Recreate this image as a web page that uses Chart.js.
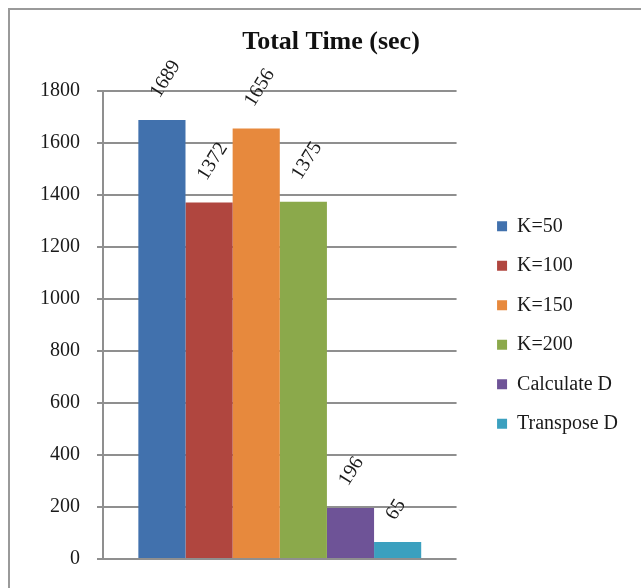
<!DOCTYPE html>
<html>
<head>
<meta charset="utf-8">
<script src="https://cdn.jsdelivr.net/npm/chart.js@4.4.1/dist/chart.umd.min.js"></script>
<style>
  html, body { margin: 0; padding: 0; background: #fff; }
  .frame {
    position: absolute; left: 8px; top: 8px; width: 700px; height: 700px;
    border-left: 2px solid #9a9a9a; border-top: 2px solid #9a9a9a;
  }
  .wrap { position: absolute; left: 0; top: 0; width: 641px; height: 588px; }
</style>
</head>
<body>
<div class="frame"></div>
<div class="wrap"><canvas id="myChart" width="641" height="588"></canvas></div>
<script>
const categories = ["Total Time (sec)"];
const seriesNames = ["K=50", "K=100", "K=150", "K=200", "Calculate D", "Transpose D"];
const seriesValues = [1689, 1372, 1656, 1375, 196, 65];
const seriesColors = ["#4171ad", "#b0463f", "#e7893d", "#8ba94b", "#6e5397", "#3ba0bf"];
const yTicks = [0, 200, 400, 600, 800, 1000, 1200, 1400, 1600, 1800];

const serif = "'Liberation Serif', 'Times New Roman', serif";

// value labels, rotated like in the spreadsheet chart
const valueLabels = {
  id: "valueLabels",
  afterDatasetsDraw(chart) {
    const ctx = chart.ctx;
    ctx.save();
    ctx.font = "20px " + serif;
    ctx.fillStyle = "#1a1a1a";
    ctx.textAlign = "left";
    ctx.textBaseline = "middle";
    chart.data.datasets.forEach((ds, i) => {
      const bar = chart.getDatasetMeta(i).data[0];
      ctx.save();
      ctx.translate(bar.x - 7, bar.y - 24);
      ctx.rotate((-58 * Math.PI) / 180);
      ctx.fillText(String(ds.data[0]), 0, 0);
      ctx.restore();
    });
    ctx.restore();
  },
};

const ctx = document.getElementById("myChart").getContext("2d");
const myChart = new Chart(ctx, {
  type: "bar",
  data: {
    labels: categories,
    datasets: seriesNames.map((name, i) => ({
      label: name,
      data: [seriesValues[i]],
      backgroundColor: seriesColors[i],
      borderWidth: 0,
      categoryPercentage: 0.8,
      barPercentage: 1.0,
    })),
  },
  options: {
    responsive: false,
    animation: false,
    layout: { padding: { left: 34, right: 13, top: 10, bottom: 26 } },
    plugins: {
      title: {
        display: true,
        text: "Total Time (sec)",
        color: "#111",
        font: { family: serif, size: 26, weight: "bold" },
        padding: { top: 17, bottom: 33 },
      },
      legend: {
        position: "right",
        fullSize: false,
        maxWidth: 220,
        labels: {
          color: "#1a1a1a",
          font: { family: serif, size: 20 },
          boxWidth: 10,
          boxHeight: 10,
          padding: 19.5,
        },
      },
      tooltip: { enabled: false },
    },
    scales: {
      x: { display: false },
      y: {
        min: 0,
        max: 1800,
        afterBuildTicks: (s) => { s.ticks = yTicks.map((v) => ({ value: v })); },
        afterFit: (s) => { s.width = 69; },
        ticks: {
          color: "#1a1a1a",
          font: { family: serif, size: 20 },
          padding: 17,
          callback: (v) => String(v),
        },
        grid: { color: "#8f8f8f", lineWidth: 2, tickLength: 6 },
        border: { color: "#8f8f8f", width: 2 },
      },
      gap: {
        position: "right",
        display: true,
        afterFit: (s) => { s.width = 21; },
        ticks: { display: false },
        grid: { display: false },
        border: { display: false },
      },
    },
  },
  plugins: [valueLabels],
});
</script>
</body>
</html>
